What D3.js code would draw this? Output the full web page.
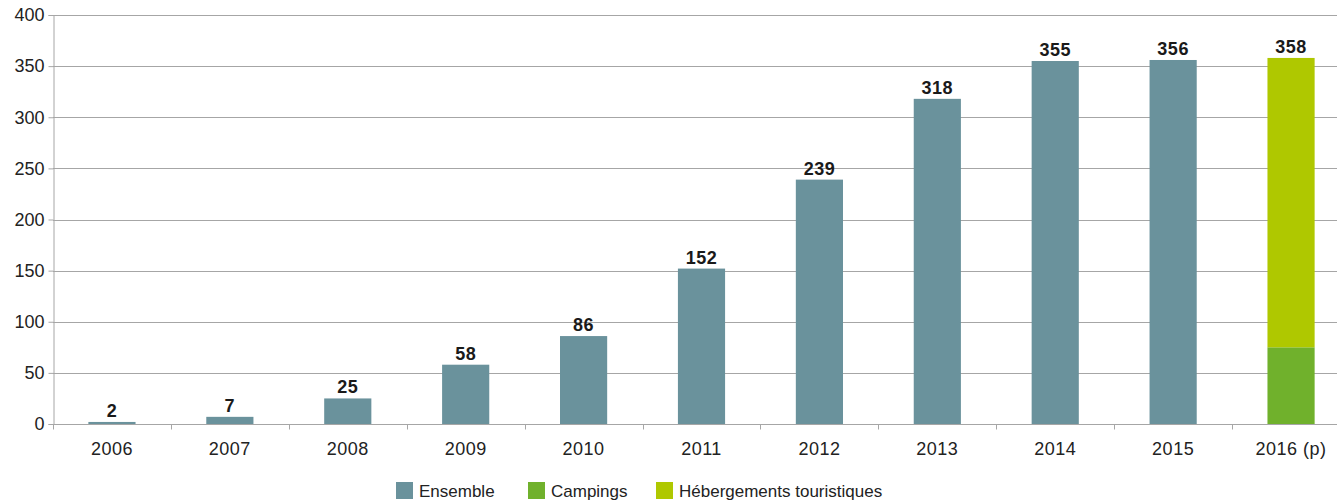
<!DOCTYPE html>
<html>
<head>
<meta charset="utf-8">
<script src="https://cdn.jsdelivr.net/npm/d3@7"></script>
<style>
  body { margin: 0; background: #fff; }
  text { font-family: "Liberation Sans", Arial, sans-serif; }
</style>
</head>
<body>
<div id="vis"></div>
<script>
var width = 1337;
var height = 504;

// data
var years = ["2006", "2007", "2008", "2009", "2010", "2011", "2012", "2013", "2014", "2015", "2016 (p)"];
var ensemble = [2, 7, 25, 58, 86, 152, 239, 318, 355, 356, 0];
var campings = [0, 0, 0, 0, 0, 0, 0, 0, 0, 0, 75];
var hebergements = [0, 0, 0, 0, 0, 0, 0, 0, 0, 0, 283];
var totals = [2, 7, 25, 58, 86, 152, 239, 318, 355, 356, 358];
var y_ticks = [0, 50, 100, 150, 200, 250, 300, 350, 400];
var series_names = ["Ensemble", "Campings", "Hébergements touristiques"];
var colors = ["#6a929c", "#70b12c", "#afc800"];

var margin = {left: 53, top: 15, bottom: 424, right: 1350};

var svg = d3.select("#vis").append("svg")
  .attr("width", width)
  .attr("height", height);

var x_scale = d3.scaleBand()
  .domain(years)
  .range([margin.left, margin.right])
  .paddingInner(0.6)
  .paddingOuter(0.3);

var y_scale = d3.scaleLinear()
  .domain([0, 400])
  .range([margin.bottom, margin.top]);

// grid
svg.append("g").selectAll("line")
  .data(y_ticks.filter(d => d > 0))
  .enter().append("line")
  .attr("x1", margin.left)
  .attr("x2", width)
  .attr("y1", d => Math.round(y_scale(d)) + 0.5)
  .attr("y2", d => Math.round(y_scale(d)) + 0.5)
  .attr("stroke", "#a6a6a6")
  .attr("stroke-width", 1);

// stacked bars
var rows = years.map(function(y, i) {
  return {year: y, Ensemble: ensemble[i], Campings: campings[i], "Hébergements touristiques": hebergements[i]};
});
var stack = d3.stack().keys(series_names)(rows);

svg.append("g").selectAll("g")
  .data(stack)
  .enter().append("g")
  .attr("fill", (d, i) => colors[i])
  .selectAll("rect")
  .data(d => d)
  .enter().append("rect")
  .attr("x", d => x_scale(d.data.year))
  .attr("width", x_scale.bandwidth())
  .attr("y", d => y_scale(d[1]))
  .attr("height", d => y_scale(d[0]) - y_scale(d[1]));

// value labels
svg.append("g").selectAll("text")
  .data(totals)
  .enter().append("text")
  .attr("x", (d, i) => x_scale(years[i]) + x_scale.bandwidth() / 2)
  .attr("y", d => y_scale(d) - 5)
  .attr("text-anchor", "middle")
  .attr("font-size", 18)
  .attr("font-weight", "bold")
  .attr("letter-spacing", 0.5)
  .attr("fill", "#1a1a1a")
  .text(d => d);

// y axis
var y_axis = svg.append("g")
  .attr("transform", "translate(" + (margin.left + 0.5) + ",0)")
  .call(d3.axisLeft(y_scale).tickValues(y_ticks).tickSize(5).tickPadding(4));
y_axis.select(".domain").attr("stroke", "#a6a6a6");
y_axis.selectAll(".tick line").attr("stroke", "#a6a6a6");
y_axis.selectAll(".tick text")
  .attr("font-size", 18)
  .attr("fill", "#222")
  .style("font-family", "'Liberation Sans', Arial, sans-serif");

// x axis
var x_axis = svg.append("g")
  .attr("transform", "translate(0," + (margin.bottom + 0.5) + ")");
x_axis.append("line")
  .attr("x1", margin.left).attr("x2", width)
  .attr("stroke", "#a6a6a6");
x_axis.selectAll(".sep")
  .data(years)
  .enter().append("line")
  .attr("class", "sep")
  .attr("x1", (d, i) => Math.round(margin.left + i * x_scale.step()) + 0.5)
  .attr("x2", (d, i) => Math.round(margin.left + i * x_scale.step()) + 0.5)
  .attr("y1", 0).attr("y2", 5)
  .attr("stroke", "#a6a6a6");
x_axis.selectAll(".lbl")
  .data(years)
  .enter().append("text")
  .attr("class", "lbl")
  .attr("x", d => x_scale(d) + x_scale.bandwidth() / 2)
  .attr("y", 30)
  .attr("text-anchor", "middle")
  .attr("font-size", 18)
  .attr("letter-spacing", 0.5)
  .attr("fill", "#222")
  .text(d => d);

// legend
var legend_x = [396, 528, 656];
var legend = svg.append("g").selectAll("g")
  .data(series_names)
  .enter().append("g")
  .attr("transform", (d, i) => "translate(" + legend_x[i] + ",482)");
legend.append("rect")
  .attr("width", 17).attr("height", 17)
  .attr("fill", (d, i) => colors[i]);
legend.append("text")
  .attr("x", 23).attr("y", 15)
  .attr("font-size", 17)
  .attr("fill", "#222")
  .text(d => d);
</script>
</body>
</html>
